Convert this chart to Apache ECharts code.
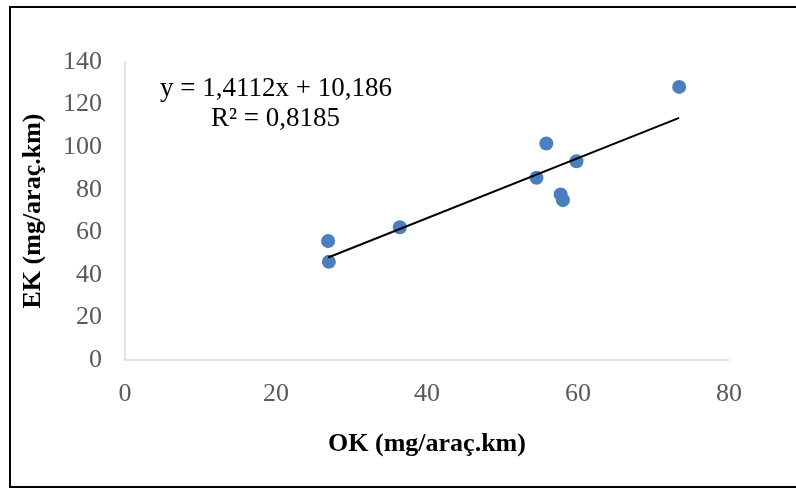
<!DOCTYPE html>
<html>
<head>
<meta charset="utf-8">
<script src="https://cdn.jsdelivr.net/npm/echarts@6/dist/echarts.min.js"></script>
<style>
  html, body { margin: 0; padding: 0; background: #fff; }
</style>
</head>
<body>
<!-- chart container -->
<div id="myChart" style="width: 796px; height: 489px;"></div>
<script>
// measured points (OK, EK)
var okValues = [26.9, 27.0, 36.4, 54.5, 55.8, 59.8, 57.7, 58.0, 73.4];
var ekValues = [55.9, 46.1, 62.4, 85.6, 101.7, 93.4, 77.8, 75.1, 128.3];
// trendline shown on the chart
var slope = 1.4112;
var intercept = 10.186;
var equationText = 'y = 1,4112x + 10,186';
var r2Text = 'R² = 0,8185';
// axis ticks
var xTicks = [0, 20, 40, 60, 80];
var yTicks = [0, 20, 40, 60, 80, 100, 120, 140];

var points = okValues.map(function (x, i) { return [x, ekValues[i]]; });
var xMin = Math.min.apply(null, okValues);
var xMax = Math.max.apply(null, okValues);
var trend = [[xMin, slope * xMin + intercept], [xMax, slope * xMax + intercept]];

var myChart = echarts.init(document.getElementById('myChart'));
var font = 'Liberation Serif, Times New Roman, serif';

var option = {
  animation: false,
  backgroundColor: '#fff',
  grid: { left: 125, right: 67, top: 62, bottom: 129 },
  graphic: [
    // outer frame
    { type: 'rect', shape: { x: 10, y: 7, width: 800, height: 480 },
      style: { fill: 'none', stroke: '#000', lineWidth: 2 } },
    { type: 'text', left: 160, top: 75,
      style: { text: equationText, font: '27px ' + font, fill: '#000' } },
    { type: 'text', left: 211, top: 105,
      style: { text: r2Text, font: '27px ' + font, fill: '#000' } }
  ],
  xAxis: {
    type: 'value',
    min: xTicks[0],
    max: xTicks[xTicks.length - 1],
    interval: 20,
    name: 'OK (mg/araç.km)',
    nameLocation: 'middle',
    nameGap: 71,
    nameTextStyle: { fontFamily: font, fontSize: 26, fontWeight: 'bold', color: '#000' },
    axisLine: { show: true, lineStyle: { color: '#d9d9d9', width: 1.5 } },
    axisTick: { show: false },
    splitLine: { show: false },
    axisLabel: { fontFamily: font, fontSize: 26, color: '#595959', margin: 21 }
  },
  yAxis: {
    type: 'value',
    min: yTicks[0],
    max: yTicks[yTicks.length - 1],
    interval: 20,
    name: 'EK (mg/araç.km)',
    nameLocation: 'middle',
    nameGap: 79,
    nameTextStyle: { fontFamily: font, fontSize: 26, fontWeight: 'bold', color: '#000' },
    axisLine: { show: true, lineStyle: { color: '#d9d9d9', width: 1.5 } },
    axisTick: { show: false },
    splitLine: { show: false },
    axisLabel: { fontFamily: font, fontSize: 26, color: '#595959', margin: 23 }
  },
  series: [
    {
      type: 'line',
      data: trend,
      symbol: 'none',
      lineStyle: { color: '#000', width: 2 },
      z: 3
    },
    {
      type: 'scatter',
      data: points,
      symbolSize: 14,
      itemStyle: { color: '#4a7ebf', opacity: 1 },
      z: 2
    }
  ]
};
option && myChart.setOption(option);
</script>
</body>
</html>
